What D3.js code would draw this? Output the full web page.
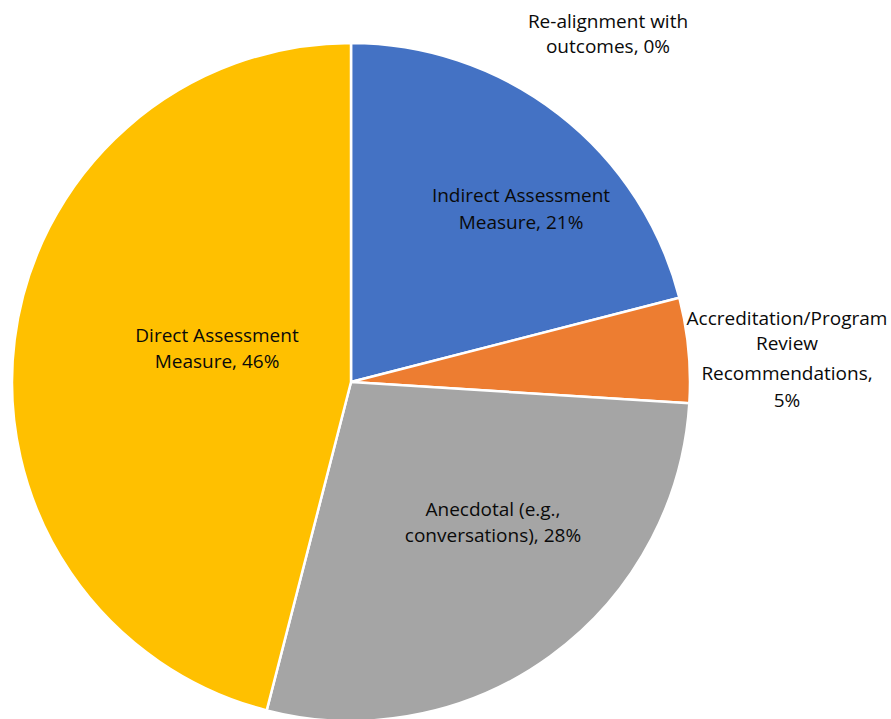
<!DOCTYPE html>
<html lang="en">
<head>
<meta charset="UTF-8">
<title>Pie</title>
<script src="https://d3js.org/d3.v7.min.js"></script>
<style>
  body { margin: 0; background: #fff; }
  svg text { font-family: "Open Sans", sans-serif; font-size: 19px; fill: #0a0a0a; }
</style>
</head>
<body>
<svg width="891" height="719"></svg>
<script>
// data, clockwise from 12 o'clock
const categories = ["Re-alignment with outcomes", "Indirect Assessment Measure", "Accreditation/Program Review Recommendations", "Anecdotal (e.g., conversations)", "Direct Assessment Measure"];
const values = [0, 21, 5, 28, 46];
const colors = ["#5B9BD5", "#4472C4", "#ED7D31", "#A5A5A5", "#FFC000"];

// label lines (as wrapped in the chart)
const labelLines = [
  ["Re-alignment with", "outcomes, 0%"],
  ["Indirect Assessment", "Measure, 21%"],
  ["Accreditation/Program", "Review", "Recommendations,", "5%"],
  ["Anecdotal (e.g.,", "conversations), 28%"],
  ["Direct Assessment", "Measure, 46%"]
];

const svg = d3.select("svg");
const cx = 351, cy = 382, r = 339;
const g = svg.append("g").attr("transform", `translate(${cx},${cy})`);

const pie = d3.pie().sort(null).value(d => d);
const arc = d3.arc().innerRadius(0).outerRadius(r);
const arcs = pie(values);

g.selectAll("path")
  .data(arcs)
  .enter()
  .append("path")
  .attr("d", arc)
  .attr("fill", (_, i) => colors[i])
  .attr("stroke", "#fff")
  .attr("stroke-width", 2.5)
  .attr("stroke-linejoin", "round");

// label placement relative to pie centre (best-fit style)
const labelPos = [
  { x: 257, y: -361, lh: 25 },
  { x: 170, y: -187, lh: 27 },
  { x: 436, y: -64, lh: [25, 30, 27] },
  { x: 142, y: 127, lh: 26 },
  { x: -134, y: -47, lh: 26 }
];

labelLines.forEach((lines, i) => {
  const p = labelPos[i];
  const t = g.append("text").attr("text-anchor", "middle");
  let y = p.y;
  lines.forEach((s, k) => {
    if (k > 0) y += Array.isArray(p.lh) ? p.lh[k - 1] : p.lh;
    t.append("tspan").attr("x", p.x).attr("y", y).attr("dy", "0.35em").text(s);
  });
});
</script>
</body>
</html>
